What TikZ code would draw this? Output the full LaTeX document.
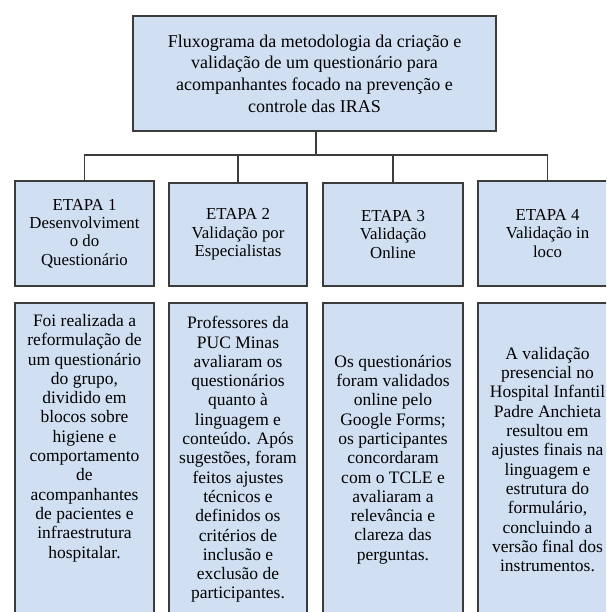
\documentclass[tikz,border=0pt]{standalone}
\usepackage{fontspec}
\setmainfont{Liberation Serif}
\definecolor{boxfill}{RGB}{208,224,242}
\definecolor{boxline}{RGB}{60,60,60}
\begin{document}
\begin{tikzpicture}[x=1pt,y=-1pt,
  box/.style={draw=boxline, fill=boxfill, line width=1.1pt, inner sep=0pt, align=center, text=black},
  toptext/.style={font=\fontsize{18}{21.7}\selectfont},
  steptext/.style={font=\fontsize{16.8}{18.4}\selectfont},
  desctext/.style={font=\fontsize{17.5}{19.3}\selectfont},
  txt/.style={inner sep=0pt, align=center, text=black},
  conn/.style={draw=boxline, line width=1.1pt}]
\useasboundingbox (0,0) rectangle (606,612);
\clip (0,0) rectangle (606,612);
\fill[white] (0,0) rectangle (606,612);

\node[box, toptext, minimum width=363pt, minimum height=115pt] (top) at (314.5,73.5)
  {Fluxograma da metodologia da criação e\\validação de um questionário para\\acompanhantes focado na prevenção e\\controle das IRAS};

\node[box, steptext, minimum width=139pt, minimum height=105pt] (e1) at (84.5,233.5)
  {ETAPA 1\\Desenvolviment\\o do\\Questionário};
\node[box, steptext, minimum width=138pt, minimum height=103pt] (e2) at (238,234.5)
  {ETAPA 2\\Validação por\\Especialistas};
\node[box, steptext, minimum width=140pt, minimum height=103pt] (e3) at (393,234.5)
  {ETAPA 3\\Validação\\Online};
\node[box, steptext, minimum width=139pt, minimum height=105pt] (e4) at (547.5,233.5)
  {ETAPA 4\\Validação in\\loco};

\coordinate (bus) at (316,155);
\draw[conn] (316,131) -- (bus);
\draw[conn] (e1.north) |- (bus) -| (e4.north);
\draw[conn] (e2.north) -- (e2.north |- bus);
\draw[conn] (e3.north) -- (e3.north |- bus);

\node[box, minimum width=139pt, minimum height=313pt] (d1) at (84.5,459.5) {};
\node[txt, desctext] (d1t) at (84.5,438)
  {Foi realizada a\\reformulação de\\um questionário\\do grupo,\\dividido em\\blocos sobre\\higiene e\\comportamento\\de\\acompanhantes\\de pacientes e\\infraestrutura\\hospitalar.};
\node[box, desctext, minimum width=138pt, minimum height=313pt] (d2) at (238,459.5)
  {Professores da\\PUC Minas\\avaliaram os\\questionários\\quanto à\\linguagem e\\conteúdo. Após\\sugestões, foram\\feitos ajustes\\técnicos e\\definidos os\\critérios de\\inclusão e\\exclusão de\\participantes.};
\node[box, desctext, minimum width=140pt, minimum height=313pt] (d3) at (393,459.5)
  {Os questionários\\foram validados\\online pelo\\Google Forms;\\os participantes\\concordaram\\com o TCLE e\\avaliaram a\\relevância e\\clareza das\\perguntas.};
\node[box, desctext, minimum width=139pt, minimum height=313pt] (d4) at (547.5,459.5)
  {A validação\\presencial no\\Hospital Infantil\\Padre Anchieta\\resultou em\\ajustes finais na\\linguagem e\\estrutura do\\formulário,\\concluindo a\\versão final dos\\instrumentos.};
\end{tikzpicture}
\end{document}
